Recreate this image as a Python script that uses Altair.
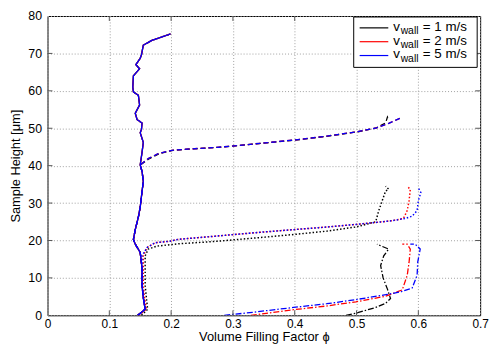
import altair as alt
import pandas as pd

FONT = "Liberation Sans"

velocities = ["1 m/s", "2 m/s", "5 m/s"]
colors = ["#000000", "#ff0000", "#0000ff"]

# shared loose-powder profile (height in um, filling factor)
base_h = [0, 1.6, 4.7, 8.0, 12.5, 16.8, 19.0, 20.3, 22.9, 26.3, 28.9, 33.2, 35.8, 38.4,
          40.2, 43.6, 46.2, 48.8, 49.7, 51.4, 52.3, 54.0, 56.2, 58.8, 59.7, 61.0, 64.0,
          65.9, 67.0, 68.7, 69.6, 72.2, 73.5, 75.2]
base_phi = [0.146, 0.158, 0.155, 0.153, 0.153, 0.150, 0.142, 0.139, 0.142, 0.147, 0.150,
            0.153, 0.155, 0.153, 0.150, 0.153, 0.155, 0.150, 0.152, 0.153, 0.145, 0.142,
            0.149, 0.147, 0.139, 0.138, 0.139, 0.149, 0.143, 0.150, 0.152, 0.155, 0.169, 0.199]

# solid: full profile, all velocities
solid_h = base_h
solid_phi = base_phi

# dashed: lower part + compaction front
dashed_low_h = base_h[:15]
dashed_low_phi = base_phi[:15]
dashed_front_h_br = [41.9, 43.2, 44.1, 44.5, 44.9, 45.3, 46.1, 46.9, 47.9, 49.1, 50.1, 51.3, 52.7]
dashed_front_phi_br = [0.163, 0.179, 0.201, 0.233, 0.275, 0.302, 0.352, 0.402, 0.452, 0.502, 0.532, 0.552, 0.571]
dashed_front_h_k = [41.9, 43.2, 44.1, 44.5, 44.9, 45.3, 46.1, 46.9, 47.9, 49.1, 50.1, 51.4, 53.0, 52.2]
dashed_front_phi_k = [0.165, 0.181, 0.203, 0.235, 0.277, 0.304, 0.354, 0.404, 0.454, 0.504, 0.532, 0.547, 0.550, 0.552]

# dotted
dotted_low_h = [0, 1.6, 4.7, 8.0, 12.5, 15.9]
dotted_low_phi_b = [0.146, 0.158, 0.155, 0.153, 0.153, 0.153]
dotted_low_phi_r = [0.148, 0.160, 0.157, 0.155, 0.155, 0.155]
dotted_low_phi_k = [0.152, 0.162, 0.160, 0.158, 0.158, 0.158]
dotted_front_h_b = [18.1, 19.4, 19.8, 20.3, 21.2, 21.6, 22.3, 22.9, 23.6, 24.3, 24.9, 25.3, 25.9, 26.5, 28.0, 30.6, 32.8, 34.1]
dotted_front_phi_b = [0.161, 0.174, 0.198, 0.211, 0.275, 0.302, 0.352, 0.398, 0.452, 0.499, 0.536, 0.558, 0.579, 0.590, 0.598, 0.600, 0.604, 0.600]
dotted_front_h_r = [18.1, 19.4, 19.8, 20.3, 21.2, 21.6, 22.3, 22.9, 23.6, 24.3, 24.9, 25.3, 25.9, 28.0, 30.6, 33.7, 34.3]
dotted_front_phi_r = [0.161, 0.174, 0.198, 0.211, 0.275, 0.302, 0.352, 0.398, 0.452, 0.499, 0.536, 0.558, 0.576, 0.582, 0.585, 0.587, 0.583]
dotted_front_h_k = [17.7, 18.5, 19.1, 19.8, 20.9, 21.6, 22.5, 23.6, 25.0, 28.0, 33.2, 33.7, 34.5]
dotted_front_phi_k = [0.163, 0.177, 0.211, 0.275, 0.352, 0.398, 0.452, 0.499, 0.531, 0.536, 0.547, 0.552, 0.547]

# dash-dot
dashdot_h_b = [0.0, 0.8, 2.1, 3.1, 4.2, 5.5, 6.3, 7.3, 10.7, 14.2, 17.7, 19.0, 19.0]
dashdot_phi_b = [0.286, 0.332, 0.398, 0.452, 0.499, 0.547, 0.572, 0.590, 0.598, 0.599, 0.603, 0.595, 0.587]
dashdot_h_r = [0.0, 1.5, 2.5, 3.6, 5.1, 6.8, 10.7, 14.2, 17.7, 19.0, 19.0]
dashdot_phi_r = [0.329, 0.398, 0.452, 0.499, 0.547, 0.574, 0.582, 0.585, 0.587, 0.582, 0.574]
dashdot_h_k = [0.0, 0.7, 2.1, 3.2, 4.5, 7.0, 10.0, 13.3, 15.9, 17.7, 19.0]
dashdot_phi_k = [0.483, 0.502, 0.531, 0.547, 0.555, 0.550, 0.543, 0.539, 0.544, 0.552, 0.533]

x_ticks = [0, 0.1, 0.2, 0.3, 0.4, 0.5, 0.6, 0.7]
y_ticks = [0, 10, 20, 30, 40, 50, 60, 70, 80]

curves = {
    ("solid", 0): (solid_phi, solid_h),
    ("solid", 1): (solid_phi, solid_h),
    ("solid", 2): (solid_phi, solid_h),
    ("dashed", 0): (dashed_low_phi + dashed_front_phi_k, dashed_low_h + dashed_front_h_k),
    ("dashed", 1): (dashed_low_phi + dashed_front_phi_br, dashed_low_h + dashed_front_h_br),
    ("dashed", 2): (dashed_low_phi + dashed_front_phi_br, dashed_low_h + dashed_front_h_br),
    ("dotted", 0): (dotted_low_phi_k + dotted_front_phi_k, dotted_low_h + dotted_front_h_k),
    ("dotted", 1): (dotted_low_phi_r + dotted_front_phi_r, dotted_low_h + dotted_front_h_r),
    ("dotted", 2): (dotted_low_phi_b + dotted_front_phi_b, dotted_low_h + dotted_front_h_b),
    ("dashdot", 0): (dashdot_phi_k, dashdot_h_k),
    ("dashdot", 1): (dashdot_phi_r, dashdot_h_r),
    ("dashdot", 2): (dashdot_phi_b, dashdot_h_b),
}
dashes = {"solid": [1, 0], "dashed": [5, 3], "dotted": [1.5, 2], "dashdot": [6, 2, 1.5, 2]}
widths = {"solid": 1.3, "dashed": 1.3, "dotted": 1.5, "dashdot": 1.3}

rows = []
for (style, vi), (ps, hs) in curves.items():
    for i, (p, h) in enumerate(zip(ps, hs)):
        rows.append({"style": style, "vel": velocities[vi], "phi": p, "h": h, "idx": i})
df = pd.DataFrame(rows)

W, H = 438, 303

x_scale = alt.Scale(domain=[0, 0.7], nice=False, zero=False)
y_scale = alt.Scale(domain=[0, 80], nice=False, zero=False)

x_axis = alt.Axis(values=x_ticks, format=".1~f", grid=True, gridDash=[1, 2], gridColor="#a0a0a0",
                  ticks=False, domain=False, labelFont=FONT, labelFontSize=12, labelColor="black",
                  labelPadding=3, titleFont=FONT, titleFontSize=13, titleFontWeight="normal",
                  titleColor="black", titlePadding=2, labelFlush=False)
y_axis = alt.Axis(values=y_ticks, grid=True, gridDash=[1, 2], gridColor="#a0a0a0",
                  ticks=False, domain=False, labelFont=FONT, labelFontSize=12.5, labelColor="black",
                  labelPadding=6, titleFont=FONT, titleFontSize=13, titleFontWeight="normal",
                  titleColor="black", titlePadding=5, labelFlush=False)

X = alt.X("phi:Q", scale=x_scale, axis=x_axis, title="Volume Filling Factor ϕ")
Y = alt.Y("h:Q", scale=y_scale, axis=y_axis, title="Sample Height [μm]")

base = alt.Chart(df)
layers = []
for vi, vel in enumerate(velocities):
    for style in ["dashdot", "dotted", "dashed", "solid"]:
        layers.append(
            base.transform_filter((alt.datum.vel == vel) & (alt.datum.style == style))
            .mark_line(color=colors[vi], strokeWidth=widths[style], strokeDash=dashes[style], clip=True)
            .encode(x=X, y=Y, order="idx:Q")
        )

# inside ticks (MATLAB style)
xt = pd.DataFrame({"phi": x_ticks[1:-1]})
yt = pd.DataFrame({"h": y_ticks[1:-1]})
tick_color = "#555555"
ticks = [
    alt.Chart(xt).mark_rule(color=tick_color).encode(x=X, y=alt.value(H), y2=alt.value(H - 5)),
    alt.Chart(xt).mark_rule(color=tick_color).encode(x=X, y=alt.value(0), y2=alt.value(5)),
    alt.Chart(yt).mark_rule(color=tick_color).encode(y=Y, x=alt.value(0), x2=alt.value(5)),
    alt.Chart(yt).mark_rule(color=tick_color).encode(y=Y, x=alt.value(W), x2=alt.value(W - 5)),
]

# legend
one = pd.DataFrame({"a": [0]})
leg_x0, leg_x1, leg_y0, leg_y1 = 310, 435, 1, 52
row_y = [12, 26, 40]
legend = [
    alt.Chart(one).mark_rect(fill="white", stroke="black", strokeWidth=1).encode(
        x=alt.value(leg_x0), x2=alt.value(leg_x1), y=alt.value(leg_y0), y2=alt.value(leg_y1))
]
for vi, vel in enumerate(velocities):
    ry = row_y[vi]
    legend.append(alt.Chart(one).mark_rule(color=colors[vi], strokeWidth=1.2).encode(
        x=alt.value(316), x2=alt.value(345), y=alt.value(ry)))
    legend.append(alt.Chart(one).mark_text(text="v", font=FONT, fontSize=13.5, align="left",
                                           baseline="alphabetic", color="black").encode(
        x=alt.value(350), y=alt.value(ry + 3)))
    legend.append(alt.Chart(one).mark_text(text="wall", font=FONT, fontSize=10.5, align="left",
                                           baseline="alphabetic", color="black").encode(
        x=alt.value(357.5), y=alt.value(ry + 6.5)))
    legend.append(alt.Chart(one).mark_text(text="= " + vel, font=FONT, fontSize=13.5, align="left",
                                           baseline="alphabetic", color="black").encode(
        x=alt.value(380), y=alt.value(ry + 3)))

chart = alt.layer(*layers, *ticks, *legend).properties(
    width=W, height=H,
    autosize=alt.AutoSizeParams(type="none"),
    padding={"left": 40, "top": 6, "right": 12, "bottom": 33},
).configure_view(stroke="black", strokeWidth=1)

chart.save("out.html", embed_options={"renderer": "svg", "actions": False})
